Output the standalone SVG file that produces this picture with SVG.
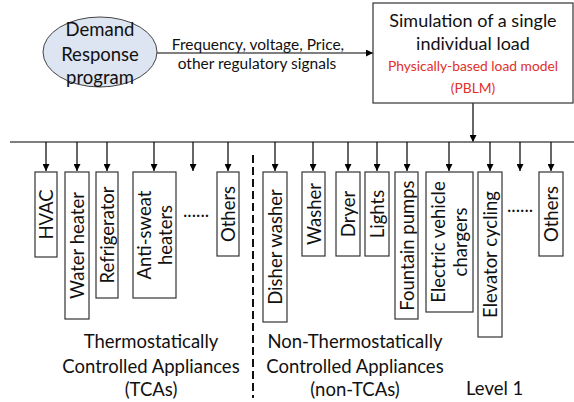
<svg xmlns="http://www.w3.org/2000/svg" width="574" height="402" viewBox="0 0 574 402">
  <defs>
    <marker id="arrow" viewBox="0 0 10 10" refX="10" refY="5" markerWidth="7" markerHeight="7" markerUnits="userSpaceOnUse" orient="auto">
      <path d="M0,0 L10,5 L0,10 z" fill="#000"/>
    </marker>
    <style>
      text { font-family: Lato, "Open Sans", "Liberation Sans", sans-serif; fill: #111; }
      .lbl { font-size: 18.5px; }
      .hd { font-size: 18px; }
      .vt { font-size: 18.5px; text-anchor: middle; dominant-baseline: central; }
      .mid { text-anchor: middle; }
      .sig { font-size: 15.5px; }
      .red { fill: #e0302a; font-size: 13.8px; }
      .box { fill: #fff; stroke: #333; stroke-width: 1.2; }
      .wire { stroke: #000; stroke-width: 1.2; fill: none; }
      .bus { stroke: #555; stroke-width: 1.5; fill: none; }
    </style>
  </defs>

  <rect width="574" height="402" fill="#fff"/>

  <!-- connectors -->
  <g id="connectors">
    <line class="wire" x1="157" y1="53" x2="373" y2="53" marker-end="url(#arrow)"/>
    <line class="wire" x1="473" y1="103" x2="473" y2="142" marker-end="url(#arrow)"/>
    <line class="bus" x1="10" y1="142" x2="574" y2="142"/>
    <g marker-end="url(#arrow)">
      <line class="wire" x1="46" y1="142" x2="46" y2="171"/>
      <line class="wire" x1="77" y1="142" x2="77" y2="171"/>
      <line class="wire" x1="107" y1="142" x2="107" y2="171"/>
      <line class="wire" x1="154" y1="142" x2="154" y2="171"/>
      <line class="wire" x1="193" y1="142" x2="193" y2="171"/>
      <line class="wire" x1="228" y1="142" x2="228" y2="171"/>
      <line class="wire" x1="275" y1="142" x2="275" y2="171"/>
      <line class="wire" x1="313" y1="142" x2="313" y2="171"/>
      <line class="wire" x1="348" y1="142" x2="348" y2="171"/>
      <line class="wire" x1="377" y1="142" x2="377" y2="171"/>
      <line class="wire" x1="407" y1="142" x2="407" y2="171"/>
      <line class="wire" x1="449" y1="142" x2="449" y2="171"/>
      <line class="wire" x1="490" y1="142" x2="490" y2="171"/>
      <line class="wire" x1="520" y1="142" x2="520" y2="171"/>
      <line class="wire" x1="551" y1="142" x2="551" y2="171"/>
    </g>
    <text class="sig mid" x="258" y="50">Frequency, voltage, Price,</text>
    <text class="sig mid" x="257" y="69">other regulatory signals</text>
  </g>

  <!-- demand response source -->
  <g id="dr-program">
    <ellipse cx="100" cy="52" rx="57" ry="35" fill="#dde5f2" stroke="#444" stroke-width="1"/>
    <text class="lbl mid" x="100" y="36">Demand</text>
    <text class="lbl mid" x="100" y="61">Response</text>
    <text class="lbl mid" x="100" y="84">program</text>
  </g>

  <!-- load simulation block -->
  <g id="pblm">
    <rect class="box" x="373" y="3" width="200" height="100"/>
    <text class="hd mid" x="473" y="27">Simulation of a single</text>
    <text class="hd mid" x="473" y="50">individual load</text>
    <text class="red mid" x="473" y="71">Physically-based load model</text>
    <text class="red mid" x="473" y="93">(PBLM)</text>
  </g>

  <!-- thermostatically controlled appliances -->
  <g id="hvac">
    <rect class="box" x="35" y="172" width="22" height="85"/>
    <text class="vt" transform="translate(46,214.5) rotate(-90)">HVAC</text>
  </g>
  <g id="water-heater">
    <rect class="box" x="65" y="172" width="24" height="147"/>
    <text class="vt" transform="translate(77,245.5) rotate(-90)">Water heater</text>
  </g>
  <g id="refrigerator">
    <rect class="box" x="96" y="172" width="22" height="126"/>
    <text class="vt" transform="translate(107,235) rotate(-90)">Refrigerator</text>
  </g>
  <g id="anti-sweat">
    <rect class="box" x="133" y="172" width="43" height="126"/>
    <text class="vt" transform="translate(144,235) rotate(-90)">Anti-sweat</text>
    <text class="vt" transform="translate(165,235) rotate(-90)">heaters</text>
  </g>
  <g id="tca-more">
    <text class="lbl" x="183" y="217">......</text>
  </g>
  <g id="tca-others">
    <rect class="box" x="217" y="172" width="22" height="84"/>
    <text class="vt" transform="translate(228,214) rotate(-90)">Others</text>
  </g>

  <!-- group separator -->
  <g id="separator">
    <line x1="253" y1="155" x2="253" y2="398" stroke="#111" stroke-width="2" stroke-dasharray="8 4"/>
  </g>

  <!-- non-thermostatically controlled appliances -->
  <g id="dish-washer">
    <rect class="box" x="263" y="172" width="24" height="150"/>
    <text class="vt" transform="translate(275,247) rotate(-90)">Disher washer</text>
  </g>
  <g id="washer">
    <rect class="box" x="302" y="172" width="23" height="84"/>
    <text class="vt" transform="translate(313.5,214) rotate(-90)">Washer</text>
  </g>
  <g id="dryer">
    <rect class="box" x="336" y="172" width="24" height="84"/>
    <text class="vt" transform="translate(348,214) rotate(-90)">Dryer</text>
  </g>
  <g id="lights">
    <rect class="box" x="365" y="172" width="24" height="84"/>
    <text class="vt" transform="translate(377,214) rotate(-90)">Lights</text>
  </g>
  <g id="fountain-pumps">
    <rect class="box" x="395" y="172" width="23" height="147"/>
    <text class="vt" transform="translate(406.5,245.5) rotate(-90)">Fountain pumps</text>
  </g>
  <g id="ev-chargers">
    <rect class="box" x="426" y="172" width="47" height="140"/>
    <text class="vt" transform="translate(438,242) rotate(-90)">Electric vehicle</text>
    <text class="vt" transform="translate(460,242) rotate(-90)">chargers</text>
  </g>
  <g id="elevator">
    <rect class="box" x="478" y="172" width="24" height="165"/>
    <text class="vt" transform="translate(490,254.5) rotate(-90)">Elevator cycling</text>
  </g>
  <g id="ntca-more">
    <text class="lbl" x="507" y="212">......</text>
  </g>
  <g id="ntca-others">
    <rect class="box" x="539" y="172" width="24" height="84"/>
    <text class="vt" transform="translate(551,214) rotate(-90)">Others</text>
  </g>

  <!-- group captions -->
  <g id="tca-caption">
    <text class="lbl mid" x="151" y="348">Thermostatically</text>
    <text class="lbl mid" x="151" y="373">Controlled Appliances</text>
    <text class="lbl mid" x="151" y="396">(TCAs)</text>
  </g>
  <g id="ntca-caption">
    <text class="lbl mid" x="355" y="348">Non-Thermostatically</text>
    <text class="lbl mid" x="355" y="373">Controlled Appliances</text>
    <text class="lbl mid" x="355" y="396">(non-TCAs)</text>
  </g>
  <g id="level">
    <text class="lbl" x="466" y="395">Level 1</text>
  </g>
</svg>
